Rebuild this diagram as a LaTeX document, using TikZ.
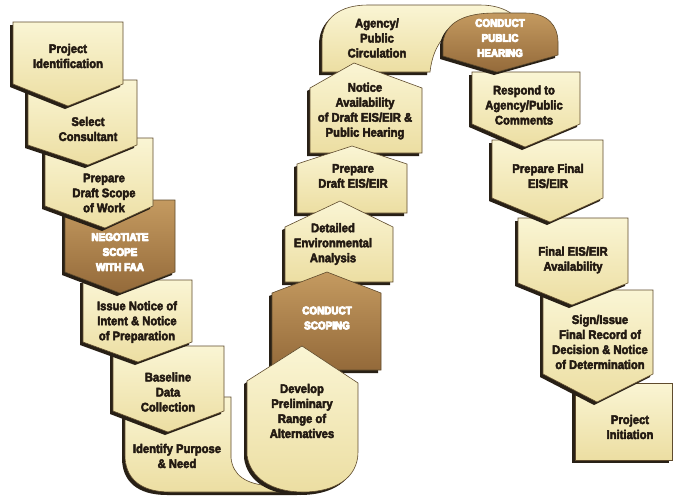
\documentclass[tikz,border=0pt]{standalone}
\usepackage{fontspec}
\setmainfont{Liberation Sans}[FakeStretch=0.9]

\definecolor{boxtop}{RGB}{250,245,212}
\definecolor{boxbot}{RGB}{236,222,162}
\definecolor{browntop}{RGB}{196,154,96}
\definecolor{brownbot}{RGB}{148,106,58}
\definecolor{edgecol}{RGB}{95,75,45}
\definecolor{shadowcol}{RGB}{40,32,22}
\definecolor{inkcol}{RGB}{35,26,18}

% heavier strokes for the lettering
\newcommand{\heavytext}{\special{pdf:literal direct 0.45 w 1 j 2 Tr}}
\newcommand{\rimtext}{\special{pdf:literal direct 0.9 w 1 j 0.28 0.18 0.08 RG 2 Tr}}

\tikzset{
  stage/.style={top color=boxtop, bottom color=boxbot, draw=edgecol, line width=0.6pt,
    preaction={fill=shadowcol, transform canvas={xshift=-3pt,yshift=-3pt}}},
  keystage/.style={stage, top color=browntop, bottom color=brownbot},
  lbl/.style={align=center, inner sep=0pt, text=inkcol,
    font=\fontsize{12.5}{15}\selectfont\bfseries,
    execute at begin node=\heavytext},
  keylbl/.style={align=center, inner sep=0pt, text=white,
    font=\fontsize{11}{15}\selectfont\bfseries,
    execute at begin node=\rimtext},
}

\begin{document}
\begin{tikzpicture}[x=1pt,y=-1pt]
  \fill[white] (0,0) rectangle (673,496);
  \useasboundingbox (0,0) rectangle (673,496);

  % right column, lowest first
  \path[stage] (575,383) rectangle (672,460);
  \path[stage] (543,290) -- (653,290) -- (653,374) -- (597,402) -- (543,374) -- cycle;
  \path[stage] (518,218) -- (628,218) -- (628,283) -- (572,305) -- (518,283) -- cycle;
  \path[stage] (492,140) -- (603,140) -- (603,198) -- (550,222) -- (492,198) -- cycle;
  \path[stage] (472,72) -- (580,72) -- (580,124) -- (525,147) -- (472,124) -- cycle;

  % turn at the top
  \path[stage] (322,72) -- (322,42) .. controls (322,18) and (340,5) .. (368,5)
    -- (480,5) .. controls (495,5) and (505,9) .. (512,14)
    -- (452,30) .. controls (438,40) and (432,55) .. (430,72) -- cycle;
  \path[keystage] (443,56) -- (443,42) .. controls (446,22) and (465,13) .. (495,13)
    -- (525,13) .. controls (548,13) and (558,26) .. (558,42)
    -- (558,55) -- (497,72) -- cycle;

  % middle column, highest first
  \path[stage] (310,153) -- (310,88) -- (354,63) -- (422,88) -- (422,153) -- cycle;
  \path[stage] (297,213) -- (297,164) -- (352,146) -- (407,164) -- (407,213) -- cycle;
  \path[stage] (285,282) -- (285,227) -- (340,201) -- (393,227) -- (393,282) -- cycle;
  \path[keystage] (272,370) -- (272,293) -- (327,272) -- (381,293) -- (381,370) -- cycle;

  % turn at the bottom
  \path[stage] (125,397) -- (231,397) -- (231,458) .. controls (233,475) and (245,484) .. (270,486)
    -- (300,486) -- (300,492) -- (170,492) .. controls (140,492) and (125,478) .. (125,455) -- cycle;
  \path[stage] (247,381) -- (302,346) -- (358,383) -- (358,452)
    .. controls (358,478) and (335,492) .. (303,492)
    .. controls (272,492) and (250,478) .. (247,455) -- cycle;

  % left column, lowest first
  \path[stage] (113,346) -- (224,346) -- (224,411) -- (168,432) -- (113,411) -- cycle;
  \path[stage] (83,280) -- (192,280) -- (192,342) -- (138,362) -- (83,342) -- cycle;
  \path[keystage] (65,200) -- (175,200) -- (175,272) -- (120,293) -- (65,272) -- cycle;
  \path[stage] (45,138) -- (153,138) -- (153,206) -- (105,228) -- (45,206) -- cycle;
  \path[stage] (28,80) -- (137,80) -- (137,145) -- (88,165) -- (28,145) -- cycle;
  \path[stage] (13,22) -- (123,22) -- (123,84) -- (68,106) -- (13,84) -- cycle;

  % labels
  \node[lbl] (projid) at (68,56) {Project\\Identification};
  \node[lbl] (consult) at (88,129) {Select\\Consultant};
  \node[lbl] (scope) at (104,193) {Prepare\\Draft Scope\\of Work};
  \node[keylbl] (negot) at (120,252) {NEGOTIATE\\SCOPE\\WITH FAA};
  \node[lbl] (intent) at (137,322) {Issue Notice of\\Intent \& Notice\\of Preparation};
  \node[lbl] (baseline) at (168,392) {Baseline\\Data\\Collection};
  \node[lbl] (purpose) at (177,456) {Identify Purpose\\\& Need};
  \node[lbl] (altern) at (302,411) {Develop\\Preliminary\\Range of\\Alternatives};
  \node[keylbl] (scoping) at (327,318) {CONDUCT\\SCOPING};
  \node[lbl] (envan) at (333,244) {Detailed\\Environmental\\Analysis};
  \node[lbl] (drafteis) at (353,176) {Prepare\\Draft EIS/EIR};
  \node[lbl] (notice) at (365,111) {Notice\\Availability\\of Draft EIS/EIR \&\\Public Hearing};
  \node[lbl] (circul) at (377,38) {Agency/\\Public\\Circulation};
  \node[keylbl] (hearing) at (500,38) {CONDUCT\\PUBLIC\\HEARING};
  \node[lbl] (respond) at (524,105) {Respond to\\Agency/Public\\Comments};
  \node[lbl] (finaleis) at (548,176) {Prepare Final\\EIS/EIR};
  \node[lbl] (avail) at (573,260) {Final EIS/EIR\\Availability};
  \node[lbl] (record) at (600,342) {Sign/Issue\\Final Record of\\Decision \& Notice\\of Determination};
  \node[lbl] (initiat) at (630,427) {Project\\Initiation};
\end{tikzpicture}
\end{document}
